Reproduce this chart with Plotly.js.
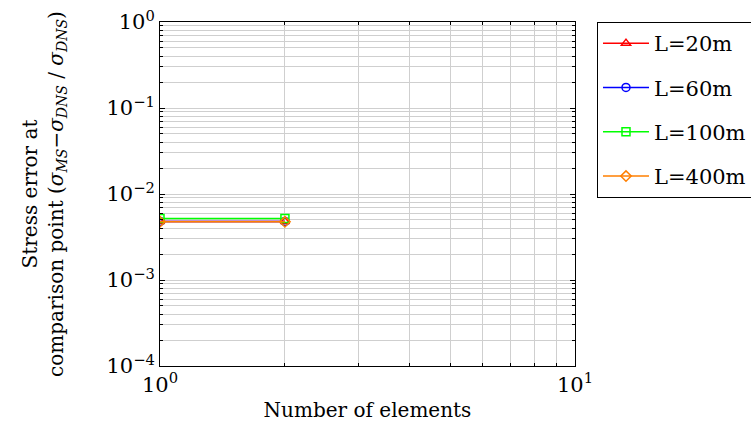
<!DOCTYPE html>
<html>
<head>
<meta charset="utf-8">
<script src="https://cdn.plot.ly/plotly-3.0.1.min.js"></script>
<style>html,body{margin:0;padding:0;background:#fff;}#chart{width:751px;height:428px;}</style>
</head>
<body>
<div id="chart"></div>
<script>
const elements = [1, 2];
const seriesNames = ["L=20m", "L=60m", "L=100m", "L=400m"];
const err20 = [4.8e-3, 4.8e-3];
const err60 = [4.8e-3, 4.8e-3];
const err100 = [5.2e-3, 5.2e-3];
const err400 = [4.75e-3, 4.75e-3];
const xTickVals = [1, 10];
const xTickText = ["10<sup>0</sup>", "10<sup>1</sup>"];
const yTickVals = [1e-4, 1e-3, 1e-2, 1e-1, 1];
const yTickText = ["10<sup>−4</sup>", "10<sup>−3</sup>", "10<sup>−2</sup>", "10<sup>−1</sup>", "10<sup>0</sup>"];

function minorVals(lo, hi) {
  const out = [];
  for (let e = lo; e < hi; e++) {
    for (let m = 2; m <= 9; m++) out.push(m * Math.pow(10, e));
  }
  return out;
}

const colors = ["#ff0000", "#0000ff", "#00ff00", "#ff7f00"];
const symbols = ["triangle-up-open", "circle-open", "square-open", "diamond-open"];
const values = [err20, err60, err100, err400];
const font = "DejaVu Serif, Liberation Serif, serif";

const traces = values.map((v, i) => ({
  x: elements,
  y: v,
  name: seriesNames[i],
  legendgroup: "g" + i,
  type: "scatter",
  mode: "lines+markers",
  line: {color: colors[i], width: 1.5},
  marker: {symbol: symbols[i], size: 8, color: colors[i], line: {width: 1.5, color: colors[i]}}
}));

const layout = {
  width: 751, height: 428,
  margin: {l: 160, r: 176, t: 22, b: 62, autoexpand: false},
  paper_bgcolor: "#fff", plot_bgcolor: "#fff",
  font: {family: font, size: 20, color: "#000"},
  showlegend: true,
  legend: {
    x: 1.053, y: 1.0, xanchor: "left", yanchor: "top",
    bordercolor: "#000", borderwidth: 1, bgcolor: "#fff",
    font: {family: font, size: 21},
    tracegroupgap: 14,
    itemwidth: 46
  },
  xaxis: {
    type: "log", range: [0, 1],
    tickmode: "array", tickvals: xTickVals, ticktext: xTickText,
    ticks: "inside", ticklen: 5, tickcolor: "#000",
    showline: true, mirror: "ticks", linecolor: "#000", linewidth: 1,
    showgrid: true, gridcolor: "#cfcfcf", gridwidth: 1,
    zeroline: false,
    tickfont: {family: font, size: 21},
    minor: {tickmode: "array", tickvals: minorVals(0, 1), ticks: "inside", ticklen: 3, tickcolor: "#000", showgrid: true, gridcolor: "#cfcfcf", gridwidth: 1},
    title: {text: "Number of elements", font: {family: font, size: 20}, standoff: 6}
  },
  yaxis: {
    type: "log", range: [-4, 0],
    tickmode: "array", tickvals: yTickVals, ticktext: yTickText,
    ticks: "inside", ticklen: 5, tickcolor: "#000",
    showline: true, mirror: "ticks", linecolor: "#000", linewidth: 1,
    showgrid: true, gridcolor: "#cfcfcf", gridwidth: 1,
    zeroline: false,
    tickfont: {family: font, size: 21},
    minor: {tickmode: "array", tickvals: minorVals(-4, 0), ticks: "inside", ticklen: 3, tickcolor: "#000", showgrid: true, gridcolor: "#cfcfcf", gridwidth: 1},
    title: {text: "Stress error at<br>comparison point (<i>σ<sub>MS</sub>−σ<sub>DNS</sub></i> / <i>σ<sub>DNS</sub></i>)", font: {family: font, size: 20}, standoff: 37}
  }
};

Plotly.newPlot("chart", traces, layout, {displayModeBar: false, staticPlot: true});
</script>
</body>
</html>
